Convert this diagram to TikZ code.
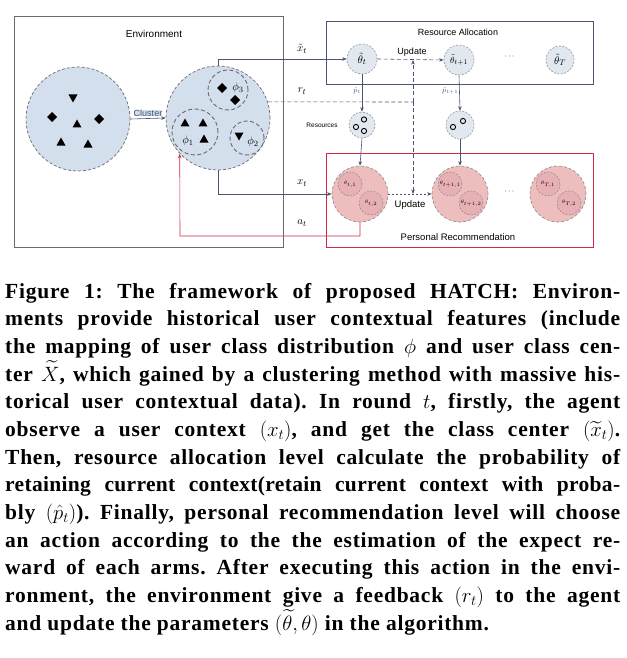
\documentclass[tikz,border=0pt]{standalone}
\usepackage{amsmath}
\usepackage{fontspec}
\setmainfont{Liberation Serif}
\newfontfamily\diagfont{Liberation Sans}
\newfontfamily\capfont[LetterSpace=3.5]{Liberation Serif}
\newfontfamily\capfonttight[LetterSpace=1.5]{Liberation Serif}
\usetikzlibrary{arrows.meta}
\definecolor{envblue}{RGB}{212,223,237}
\definecolor{lightc}{RGB}{226,232,240}
\definecolor{pinkc}{RGB}{238,190,190}
\definecolor{pinkd}{RGB}{230,176,180}
\definecolor{bord}{RGB}{105,105,110}
\definecolor{lnc}{RGB}{75,85,115}
\definecolor{redc}{RGB}{214,40,70}
\tikzset{
  arr/.style={-{Stealth[length=4.5pt,width=3.5pt]}},
  envbox/.style={draw=bord, line width=0.7pt, inner sep=0},
  rabox/.style={draw=lnc, line width=0.7pt, inner sep=0},
  prbox/.style={draw=redc, line width=0.8pt, inner sep=0},
  bigc/.style={circle, draw=bord, dash pattern=on 3pt off 2pt, line width=0.7pt, fill=envblue, minimum size=104pt, inner sep=0},
  subc/.style={circle, draw=bord, dash pattern=on 4pt off 2.5pt, line width=0.9pt, minimum size=#1, inner sep=0},
  smallc/.style={circle, draw=bord!70, dash pattern=on 2pt off 1.5pt, line width=0.6pt, fill=lightc, minimum size=#1, inner sep=0},
  pinkcirc/.style={circle, draw=bord!80, dash pattern=on 3pt off 2pt, line width=0.6pt, fill=pinkc, minimum size=56pt, inner sep=0},
  pinksub/.style={circle, draw=bord!80, dash pattern=on 2pt off 1.5pt, line width=0.5pt, fill=pinkd, minimum size=24pt, inner sep=0, font=\fontsize{5}{6}\selectfont},
  lbl/.style={inner sep=0, font=\diagfont\fontsize{10}{12}\selectfont},
  mlbl/.style={inner sep=0, font=\fontsize{11}{13}\selectfont},
  capl/.style={anchor=base west, inner sep=0, font=\capfont\bfseries\fontsize{21.5}{24}\selectfont\frenchspacing},
  capt/.style={anchor=base west, inner sep=0, font=\capfonttight\bfseries\fontsize{21.5}{24}\selectfont\frenchspacing},
  tri/.pic={\fill (0,-4.5) -- (4.5,3.5) -- (-4.5,3.5) -- cycle;},
  dtri/.pic={\fill (0,4.5) -- (4.5,-3.5) -- (-4.5,-3.5) -- cycle;},
  dia/.pic={\fill (0,-5) -- (5,0) -- (0,5) -- (-5,0) -- cycle;},
}
\begin{document}
\begin{tikzpicture}[x=1pt, y=-1pt]
\useasboundingbox[fill=white] (0,0) rectangle (626,658);

% ---------- Environment ----------
\node[envbox, minimum width=269pt, minimum height=231pt] (env) at (148.5,131.5) {};
\node[lbl] (envl) at (154,34) {Environment};
\node[bigc] (lc) at (78,119) {};
\node[bigc] (rc) at (218,118) {};
\pic at (73,98) {dtri};
\pic at (52,117) {dia};
\pic at (99,119) {dia};
\pic at (77,124) {tri};
\pic at (61,142) {tri};
\pic at (88,144) {tri};

\node[subc=40pt] (p3) at (228,90) {};
\node[subc=46pt] (p1) at (195,132) {};
\node[subc=34pt] (p2) at (247,138) {};
\pic at (222,88) {dia};
\pic at (235,100) {dia};
\pic at (185,123) {tri};
\pic at (203,123) {tri};
\pic at (204,139) {tri};
\pic at (239,136) {dtri};
\node[mlbl] (p3l) at (238,88) {$\phi_3$};
\node[mlbl] (p1l) at (188,141) {$\phi_1$};
\node[mlbl] (p2l) at (253,142) {$\phi_2$};
\draw[arr, lnc, line width=0.6pt] (lc.east) -- (rc.west) node[midway, above=2pt, lbl, fill=envblue, font=\diagfont\fontsize{9}{11}\selectfont] (clu) {Cluster};

% ---------- Resource Allocation ----------
\node[rabox, minimum width=267pt, minimum height=63pt] (ra) at (459.5,52.5) {};
\node[lbl, font=\diagfont\fontsize{9}{11}\selectfont] (ral) at (458,32) {Resource Allocation};
\node[smallc=30pt, font=\fontsize{11}{12}\selectfont] (tht) at (362,59) {$\tilde{\theta}_t$};
\node[smallc=30pt, font=\fontsize{9.5}{11}\selectfont] (tht1) at (459,60) {$\tilde{\theta}_{t+1}$};
\node[smallc=28pt, font=\fontsize{11}{12}\selectfont] (thT) at (560,60) {$\tilde{\theta}_T$};
\node[inner sep=0, font=\fontsize{8}{10}\selectfont] (dots1) at (510,57) {$\cdots$};

\node[smallc=26pt] (res1) at (362,125) {};
\node[smallc=28pt] (res2) at (460,125) {};
\draw[line width=0.9pt] (356,127) circle (2.6pt) (364,119.5) circle (2.6pt) (364,131) circle (2.6pt);
\draw[line width=0.9pt] (453,127) circle (2.6pt) (463,121) circle (2.6pt);
\node[lbl, font=\diagfont\fontsize{6.5}{8}\selectfont] (resl) at (322,125) {Resources};

% ---------- Personal Recommendation ----------
\node[prbox, minimum width=267pt, minimum height=94pt] (pr) at (459.5,200) {};
\node[lbl, font=\diagfont\fontsize{9.5}{11}\selectfont] (prl) at (458,237) {Personal Recommendation};
\node[pinkcirc] (pr1) at (360,194) {};
\node[pinkcirc] (pr2) at (460,194) {};
\node[pinkcirc] (pr3) at (558,194) {};
\node[pinksub] (pr1a) at (350,184) {$\theta_{t,1}$};
\node[pinksub] (pr1b) at (371,203) {$\theta_{t,2}$};
\node[pinksub] (pr2a) at (450,184) {$\theta_{t+1,1}$};
\node[pinksub] (pr2b) at (471,203) {$\theta_{t+1,2}$};
\node[pinksub] (pr3a) at (548,184) {$\theta_{T,1}$};
\node[pinksub] (pr3b) at (569,203) {$\theta_{T,2}$};
\node[inner sep=0, font=\fontsize{8}{10}\selectfont] (dots2) at (510,192) {$\cdots$};

% ---------- connectors ----------
\coordinate (rj) at (413,102);
\coordinate (uu) at (413,60);
\coordinate (ud) at (413,194);
\coordinate (acorner) at (180,236);

\draw[arr, lnc, line width=0.6pt] (rc.north) |- (tht.west);
\node[mlbl] (xtl) at (302,49) {$\tilde{x}_t$};
\draw[lnc, line width=0.6pt, dash pattern=on 4pt off 2.5pt] (rc.18) -- (rj);
\node[mlbl] (rtl) at (302,91) {$r_t$};
\draw[arr, lnc, line width=0.6pt, dash pattern=on 4pt off 2.5pt] (rj) -- (uu);
\draw[arr, lnc, line width=0.6pt, dash pattern=on 4pt off 2.5pt] (rj) -- (ud);
\draw[arr, lnc, line width=0.6pt, dash pattern=on 4pt off 2.5pt] (tht.east) -- (tht1.west);
\node[lbl, font=\diagfont\fontsize{9}{11}\selectfont] (upd1) at (412,52) {Update};

\draw[arr, lnc, line width=0.6pt] (tht.south) -- (res1.north) node[pos=0.45, left=1pt, inner sep=0, font=\fontsize{7}{8}\selectfont] (ptl) {$\hat{p}_t$};
\draw[arr, lnc, line width=0.6pt] (tht1.south) -- (res2.north) node[pos=0.45, left=1pt, inner sep=0, font=\fontsize{7}{8}\selectfont] (pt1l) {$\hat{p}_{t+1}$};
\draw[arr, lnc, line width=0.6pt] (res1.south) -- (pr1.north);
\draw[arr, lnc, line width=0.6pt] (res2.south) -- (pr2.north);

\draw[arr, lnc, line width=0.6pt, dash pattern=on 2pt off 2pt] (pr1.east) -- (pr2.west);
\node[lbl, font=\diagfont\fontsize{9.5}{11}\selectfont] (upd2) at (410,205) {Update};

\draw[arr, lnc, line width=0.6pt] (rc.south) |- (pr1.west);
\node[mlbl] (xl) at (302,183) {$x_t$};
\draw[arr, redc, line width=0.6pt] (pr1.south) |- (acorner) -- (rc.223);
\node[mlbl] (al) at (302,223) {$a_t$};

% ---------- caption ----------
\node[capl] (c1) at (5,298) {\makebox[615pt][s]{Figure 1: The framework of proposed HATCH: Environ-}};
\node[capl] (c2) at (5,325.7) {\makebox[615pt][s]{ments provide historical user contextual features (include}};
\node[capl] (c3) at (5,353.3) {\makebox[615pt][s]{the mapping of user class distribution $\phi$ and user class cen-}};
\node[capl] (c4) at (5,381) {\makebox[615pt][s]{ter $\widetilde{X}$, which gained by a clustering method with massive his-}};
\node[capl] (c5) at (5,408.7) {\makebox[615pt][s]{torical user contextual data). In round $t$, firstly, the agent}};
\node[capl] (c6) at (5,436.3) {\makebox[615pt][s]{observe a user context $(x_t)$, and get the class center $(\widetilde{x}_t)$.}};
\node[capl] (c7) at (5,464) {\makebox[615pt][s]{Then, resource allocation level calculate the probability of}};
\node[capt] (c8) at (5,491.7) {\makebox[615pt][s]{retaining current context(retain current context with proba-}};
\node[capl] (c9) at (5,519.3) {\makebox[615pt][s]{bly $(\hat{p}_t)$). Finally, personal recommendation level will choose}};
\node[capl] (c10) at (5,547) {\makebox[615pt][s]{an action according to the the estimation of the expect re-}};
\node[capl] (c11) at (5,574.7) {\makebox[615pt][s]{ward of each arms. After executing this action in the envi-}};
\node[capl] (c12) at (5,602.3) {\makebox[615pt][s]{ronment, the environment give a feedback $(r_t)$ to the agent}};
\node[capl] (c13) at (5,630) {and update the parameters $(\widetilde{\theta}, \theta)$ in the algorithm.};
\end{tikzpicture}
\end{document}
